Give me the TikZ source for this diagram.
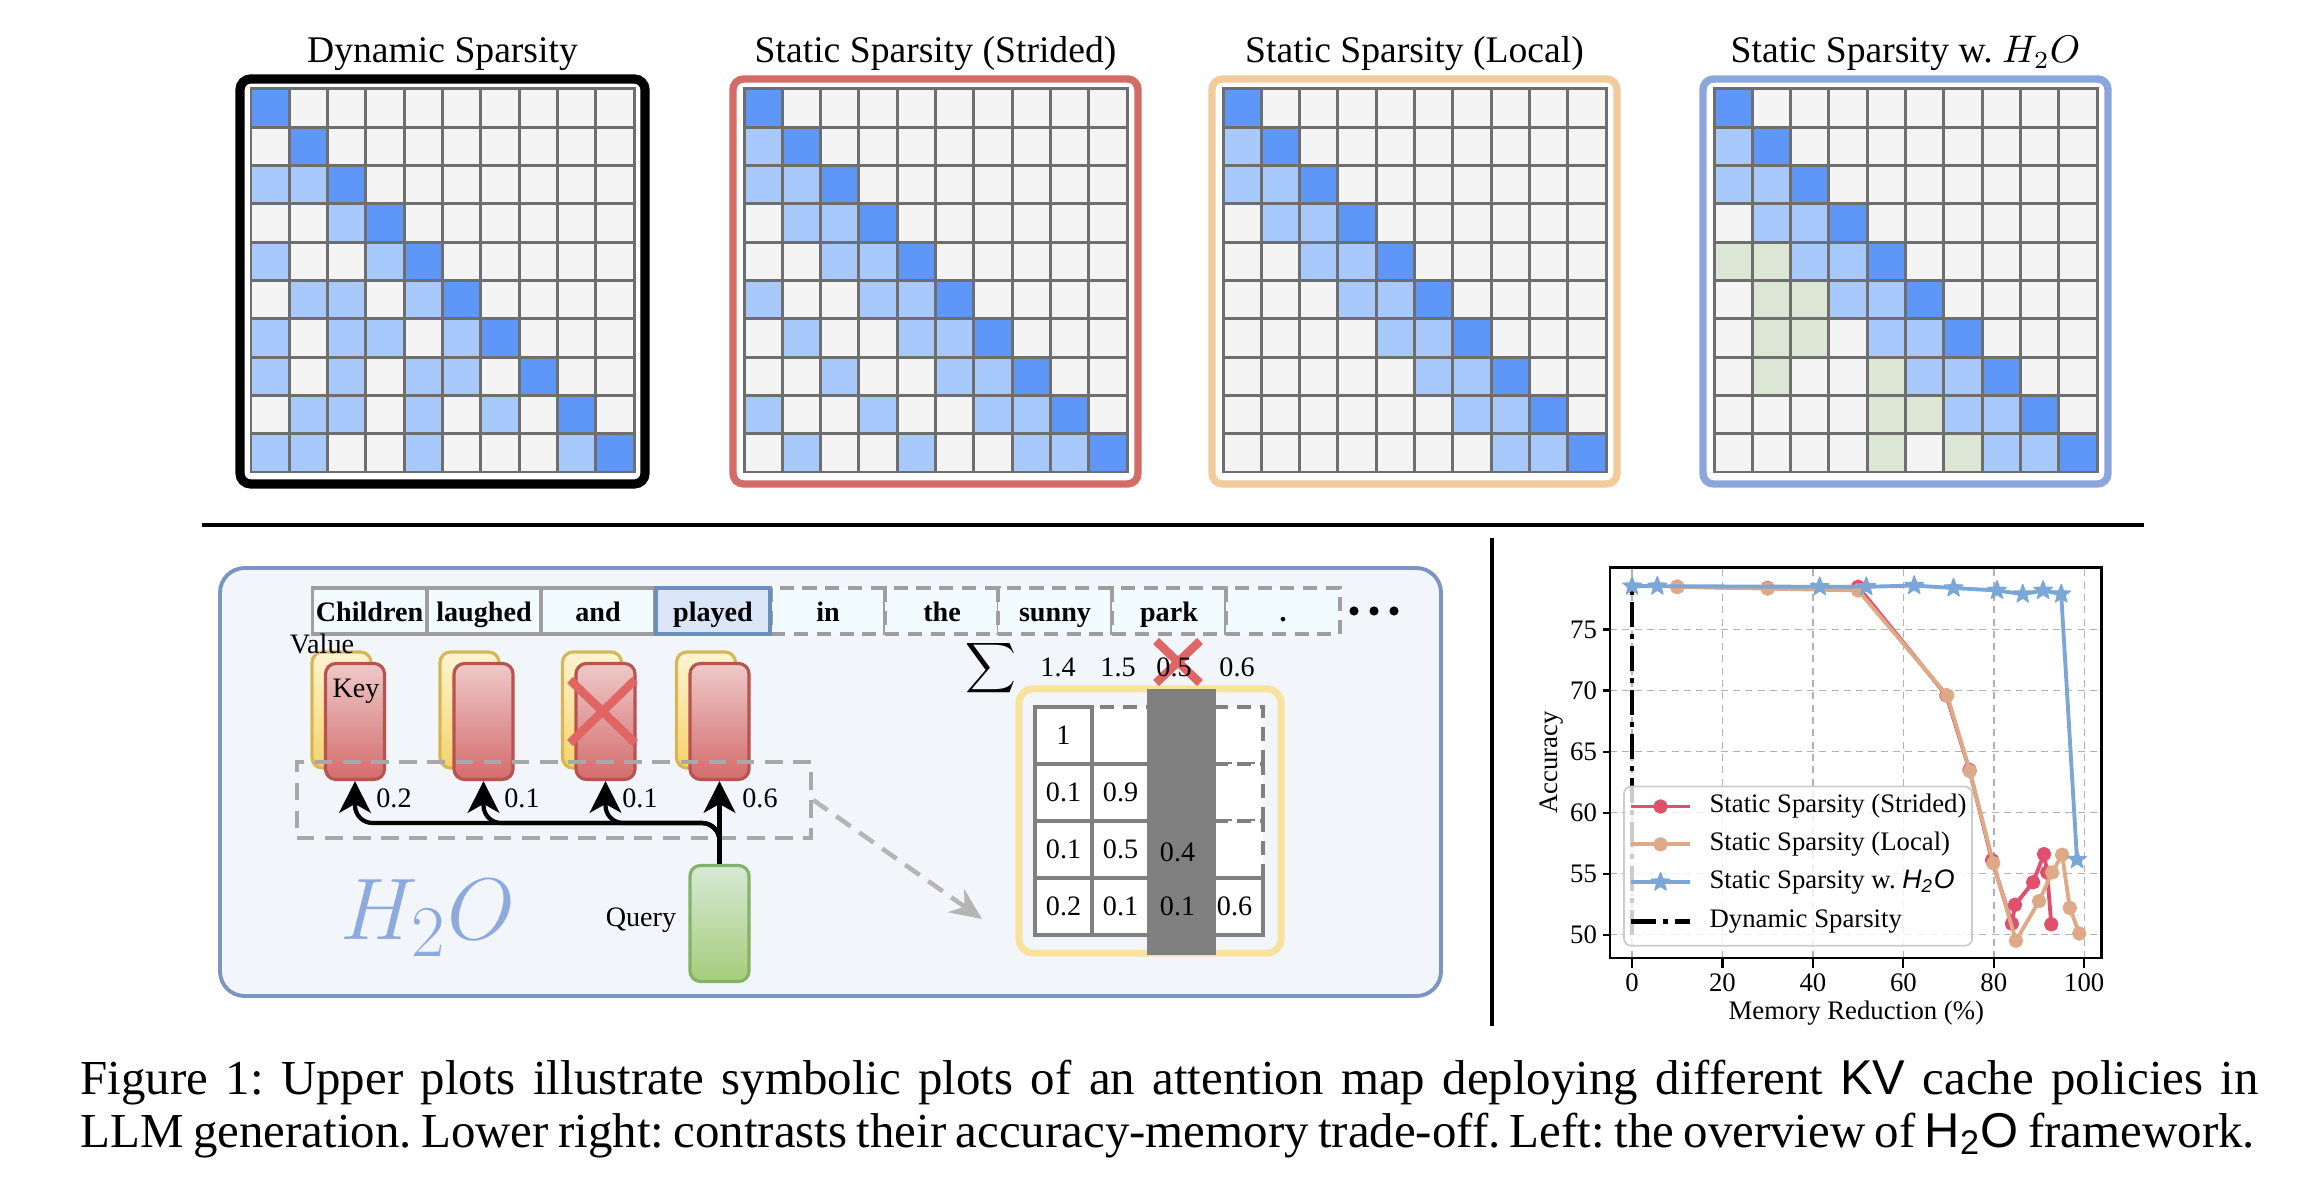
\documentclass[tikz,border=0pt]{standalone}
\usepackage{fontspec}
\setmainfont{Liberation Serif}
\newfontfamily\capsans{Liberation Sans}
\usepackage{tikz}
\usetikzlibrary{arrows.meta,positioning}
\definecolor{cellbg}{HTML}{F4F4F4}
\definecolor{gridgray}{HTML}{6E6E6E}
\definecolor{lightblue}{HTML}{A8C9FC}
\definecolor{darkblue}{HTML}{5E97F8}
\definecolor{h2ogreen}{HTML}{DBE6D5}
\definecolor{stridedred}{HTML}{D36B67}
\definecolor{localtan}{HTML}{F2CB9C}
\definecolor{h2oframe}{HTML}{8AA6DC}
\definecolor{panelbg}{HTML}{F2F5FA}
\definecolor{panelline}{HTML}{7B94C4}
\definecolor{tokfill}{HTML}{F2FBFE}
\definecolor{tokline}{HTML}{9E9E9E}
\definecolor{playfill}{HTML}{DAE5F8}
\definecolor{playline}{HTML}{6C8EBF}
\definecolor{keytop}{HTML}{EEC9C9}
\definecolor{keybot}{HTML}{D46C6C}
\definecolor{keyline}{HTML}{B85450}
\definecolor{valtop}{HTML}{FFF4D2}
\definecolor{valbot}{HTML}{F5D36A}
\definecolor{valline}{HTML}{D6B656}
\definecolor{qtop}{HTML}{D7E9D5}
\definecolor{qbot}{HTML}{A6CD7B}
\definecolor{qline}{HTML}{82B366}
\definecolor{crossred}{HTML}{E06666}
\definecolor{h2otext}{HTML}{8DAADF}
\definecolor{attnyellow}{HTML}{F9E29B}
\definecolor{darkcol}{HTML}{808080}
\definecolor{dashgray}{HTML}{A8A8A8}
\definecolor{plotred}{HTML}{E0506C}
\definecolor{plottan}{HTML}{DDA986}
\definecolor{plotblue}{HTML}{7AA7D6}

\pgfdeclareplotmark{fivestar}{%
  \pgfpathmoveto{\pgfpointpolar{90}{\pgfplotmarksize}}%
  \pgfpathlineto{\pgfpointpolar{126}{0.42*\pgfplotmarksize}}%
  \pgfpathlineto{\pgfpointpolar{162}{\pgfplotmarksize}}%
  \pgfpathlineto{\pgfpointpolar{198}{0.42*\pgfplotmarksize}}%
  \pgfpathlineto{\pgfpointpolar{234}{\pgfplotmarksize}}%
  \pgfpathlineto{\pgfpointpolar{270}{0.42*\pgfplotmarksize}}%
  \pgfpathlineto{\pgfpointpolar{306}{\pgfplotmarksize}}%
  \pgfpathlineto{\pgfpointpolar{342}{0.42*\pgfplotmarksize}}%
  \pgfpathlineto{\pgfpointpolar{18}{\pgfplotmarksize}}%
  \pgfpathlineto{\pgfpointpolar{54}{0.42*\pgfplotmarksize}}%
  \pgfpathclose
  \pgfusepathqfillstroke}

\frenchspacing
\begin{document}
\begin{tikzpicture}[
    x=0.01cm, y=-0.01cm,
    title/.style={font=\fontsize{10.7}{12}\selectfont, inner sep=0pt, anchor=base},
    cellbox/.style={draw=gridgray, line width=0.85pt, fill=cellbg},
    ltcell/.style={cellbox, fill=lightblue},
    dkcell/.style={cellbox, fill=darkblue},
    gncell/.style={cellbox, fill=h2ogreen},
    mapframe/.style={rounded corners=3pt, line width=2.1pt},
    panel/.style={fill=panelbg, draw=panelline, line width=1.1pt, rounded corners=7pt},
    token/.style={
        rectangle,
        draw=tokline,
        fill=tokfill,
        line width=0.9pt,
        minimum width=1.14cm,
        minimum height=0.46cm,
        text height=7pt, text depth=1pt,
        inner sep=0pt, outer sep=0pt,
        font=\bfseries\fontsize{8}{9}\selectfont
    },
    futuretoken/.style={token, dash pattern=on 4pt off 2.5pt},
    valcard/.style={
        rectangle,
        rounded corners=3pt,
        minimum width=0.59cm,
        minimum height=1.16cm,
        draw=valline,
        line width=0.9pt,
        top color=valtop,
        bottom color=valbot
    },
    keycard/.style={valcard, draw=keyline, top color=keytop, bottom color=keybot},
    querycard/.style={valcard, draw=qline, top color=qtop, bottom color=qbot},
    lbl/.style={font=\fontsize{8}{9}\selectfont, inner sep=0pt},
    attn/.style={
        -{Stealth[length=9pt, width=9pt, inset=2.5pt]},
        line width=1.2pt,
        rounded corners=5pt
    },
    cross/.style={draw=crossred, line width=2.4pt},
    selbox/.style={
        rectangle,
        draw=dashgray,
        dash pattern=on 5pt off 3pt,
        line width=1.2pt,
        minimum width=5.14cm,
        minimum height=0.76cm,
        inner sep=0pt
    },
    zoomarrow/.style={
        -{Stealth[length=9pt, width=8pt]},
        draw=dashgray!85,
        dash pattern=on 5pt off 3pt,
        line width=1.3pt
    },
    mcell/.style={draw=darkcol, fill=white, line width=1pt},
    plotgrid/.style={draw=black!30, dash pattern=on 2pt off 1.5pt, line width=0.4pt},
    ticklbl/.style={font=\fontsize{7.6}{9}\selectfont, inner sep=0pt},
    stridedplot/.style={draw=plotred, line width=1.1pt, line join=round, mark=*, mark size=1.5pt, mark options={fill=plotred, draw=plotred, solid}},
    localplot/.style={draw=plottan, line width=1.1pt, line join=round, mark=*, mark size=1.5pt, mark options={fill=plottan, draw=plottan, solid}},
    h2oplot/.style={draw=plotblue, line width=1.1pt, line join=round, mark=fivestar, mark size=2.8pt, mark options={fill=plotblue, draw=plotblue, solid, line width=0.3pt}},
    dynline/.style={draw=black, line width=1.3pt, dash pattern=on 7pt off 2pt on 1.5pt off 2pt},
    legtext/.style={font=\fontsize{7.6}{9}\selectfont, inner sep=0pt, anchor=west},
    capline/.style={font=\fontsize{13.9}{16}\selectfont, inner sep=0pt, anchor=base west}
]
    \useasboundingbox (0,0) rectangle (2298,1186);

    % Titles of the four attention maps
    \node[title] (tdyn) at (442.5,63) {Dynamic Sparsity};
    \node[title] (tstr) at (935.5,63) {Static Sparsity (Strided)};
    \node[title] (tloc) at (1414.5,63) {Static Sparsity (Local)};
    \node[title] (th2o) at (1905.5,63) {Static Sparsity w. $H_2O$};

    % Map 1: Dynamic Sparsity
    \draw[mapframe, draw=black, line width=2.6pt] (240,79) rectangle (645,484);
    \begin{scope}[shift={(251,89)}]
        \foreach \r in {0,...,9} \foreach \c in {0,...,9}
            \draw[cellbox] (\c*38.3,\r*38.3) rectangle ++(38.3,38.3);
        \foreach \r/\c in {3/1,3/2,4/3,5/1,5/4,6/2,6/3,6/5,7/1,7/3,7/4,7/6,8/1,8/3,8/5,8/6,9/2,9/3,9/5,9/7,10/1,10/2,10/5,10/9}
            \draw[ltcell] ({(\c-1)*38.3},{(\r-1)*38.3}) rectangle ++(38.3,38.3);
        \foreach \i in {0,...,9}
            \draw[dkcell] (\i*38.3,\i*38.3) rectangle ++(38.3,38.3);
    \end{scope}

    % Map 2: Strided
    \draw[mapframe, draw=stridedred] (733,79) rectangle (1138,484);
    \begin{scope}[shift={(744,89)}]
        \foreach \r in {0,...,9} \foreach \c in {0,...,9}
            \draw[cellbox] (\c*38.3,\r*38.3) rectangle ++(38.3,38.3);
        \foreach \r/\c in {2/1,3/1,3/2,4/2,4/3,5/3,5/4,6/1,6/4,6/5,7/2,7/5,7/6,8/3,8/6,8/7,9/1,9/4,9/7,9/8,10/2,10/5,10/8,10/9}
            \draw[ltcell] ({(\c-1)*38.3},{(\r-1)*38.3}) rectangle ++(38.3,38.3);
        \foreach \i in {0,...,9}
            \draw[dkcell] (\i*38.3,\i*38.3) rectangle ++(38.3,38.3);
    \end{scope}

    % Map 3: Local
    \draw[mapframe, draw=localtan] (1212,79) rectangle (1617,484);
    \begin{scope}[shift={(1223,89)}]
        \foreach \r in {0,...,9} \foreach \c in {0,...,9}
            \draw[cellbox] (\c*38.3,\r*38.3) rectangle ++(38.3,38.3);
        \foreach \r/\c in {2/1,3/1,3/2,4/2,4/3,5/3,5/4,6/4,6/5,7/5,7/6,8/6,8/7,9/7,9/8,10/8,10/9}
            \draw[ltcell] ({(\c-1)*38.3},{(\r-1)*38.3}) rectangle ++(38.3,38.3);
        \foreach \i in {0,...,9}
            \draw[dkcell] (\i*38.3,\i*38.3) rectangle ++(38.3,38.3);
    \end{scope}

    % Map 4: Local + heavy hitters
    \draw[mapframe, draw=h2oframe] (1703,79) rectangle (2108,484);
    \begin{scope}[shift={(1714,89)}]
        \foreach \r in {0,...,9} \foreach \c in {0,...,9}
            \draw[cellbox] (\c*38.3,\r*38.3) rectangle ++(38.3,38.3);
        \foreach \r/\c in {2/1,3/1,3/2,4/2,4/3,5/3,5/4,6/4,6/5,7/5,7/6,8/6,8/7,9/7,9/8,10/8,10/9}
            \draw[ltcell] ({(\c-1)*38.3},{(\r-1)*38.3}) rectangle ++(38.3,38.3);
        \foreach \r/\c in {5/1,5/2,6/2,6/3,7/2,7/3,8/2,8/5,9/5,9/6,10/5,10/7}
            \draw[gncell] ({(\c-1)*38.3},{(\r-1)*38.3}) rectangle ++(38.3,38.3);
        \foreach \i in {0,...,9}
            \draw[dkcell] (\i*38.3,\i*38.3) rectangle ++(38.3,38.3);
    \end{scope}

    % Separators
    \draw[line width=1.2pt] (202,525) -- (2144,525);
    \draw[line width=1.2pt] (1492,538) -- (1492,1026);

    % Lower left: H2O overview
    \draw[panel] (220,568) rectangle (1441,996);

    % Tokens
    \node[token] (tk1) at (369.5,611) {Children};
    \node[token] (tk2) at (484,611) {laughed};
    \node[token] (tk3) at (598,611) {and};
    \node[futuretoken] (tk5) at (828,611) {in};
    \node[futuretoken] (tk6) at (942,611) {the};
    \node[futuretoken] (tk7) at (1055,611) {sunny};
    \node[futuretoken] (tk8) at (1169,611) {park};
    \node[futuretoken] (tk9) at (1283,611) {.};
    \node[token, fill=playfill, draw=playline, line width=1.1pt] (tk4) at (713,611) {played};
    \foreach \dx in {1354,1374,1394}
        \fill (\dx,611) circle (1.3pt);

    % Value and key cards
    \node[valcard] (val1) at (341.5,710) {};
    \node[keycard] (key1) at (355,721.5) {};
    \node[valcard] (val2) at (469.5,710) {};
    \node[keycard] (key2) at (483.5,721.5) {};
    \node[valcard] (val3) at (592,710) {};
    \node[keycard] (key3) at (605.5,721.5) {};
    \node[valcard] (val4) at (706,710) {};
    \node[keycard] (key4) at (719.5,721.5) {};
    \node[lbl] (vallbl) at (322,644) {Value};
    \node[lbl] (keylbl) at (356,691) {Key};
    \draw[cross] (570,680) -- (635,743) (570,743) -- (635,680);

    % Query
    \node[querycard] (query) at (719.5,923.5) {};
    \node[lbl] (qlbl) at (641,920) {Query};
    \node[font=\fontsize{28}{30}\selectfont, text=h2otext, inner sep=0pt] (h2o) at (428,918) {$H_2O$};

    % Attention scores
    \node[selbox] (sel) at (554,800) {};
    \coordinate (bus) at (0,823);
    \draw[attn] (query.north) -- (key4.south);
    \foreach \k in {1,2,3}
        \draw[attn] (query.north) |- (key\k.south |- bus) -- (key\k.south);
    \node[lbl] (s1) at (394,798) {0.2};
    \node[lbl] (s2) at (522,798) {0.1};
    \node[lbl] (s3) at (640,798) {0.1};
    \node[lbl] (s4) at (760,798) {0.6};
    \coordinate (zoomtip) at (982,919);
    \draw[zoomarrow] (sel.east) -- (zoomtip);

    % Attention matrix
    \node[draw=attnyellow, line width=2pt, rounded corners=4pt, minimum width=2.62cm, minimum height=2.64cm, inner sep=0pt] (attnbox) at (1150,821) {};
    \foreach \r/\c in {1/2,1/3,1/4,2/3,2/4,3/4}
        \draw[mcell, dash pattern=on 4pt off 2.5pt] ({1035+57*(\c-1)},{707+57*(\r-1)}) rectangle ++(57,57);
    \foreach \r/\c in {1/1,2/1,2/2,3/1,3/2,3/3,4/1,4/2,4/3,4/4}
        \draw[mcell] ({1035+57*(\c-1)},{707+57*(\r-1)}) rectangle ++(57,57);
    \fill[darkcol] (1147,689) rectangle (1216,955);
    \node[lbl] (m11) at (1063.5,735.5) {1};
    \node[lbl] (m21) at (1063.5,792.5) {0.1};
    \node[lbl] (m22) at (1120.5,792.5) {0.9};
    \node[lbl] (m31) at (1063.5,849.5) {0.1};
    \node[lbl] (m32) at (1120.5,849.5) {0.5};
    \node[lbl] (m33) at (1177.5,852.5) {0.4};
    \node[lbl] (m41) at (1063.5,906.5) {0.2};
    \node[lbl] (m42) at (1120.5,906.5) {0.1};
    \node[lbl] (m43) at (1177.5,906.5) {0.1};
    \node[lbl] (m44) at (1234.5,906.5) {0.6};

    % Column sums
    \draw[cross] (1156,641) -- (1200,683) (1156,683) -- (1200,641);
    \node[lbl] (sigma) at (991,668) {$\displaystyle\sum$};
    \node[lbl] (sum1) at (1058,667) {1.4};
    \node[lbl] (sum2) at (1118,667) {1.5};
    \node[lbl] (sum3) at (1174,667) {0.5};
    \node[lbl] (sum4) at (1237,667) {0.6};

    % Lower right: accuracy vs memory reduction
    \begin{scope}[shift={(1632,1545)}, x=0.0452cm, y=0.122cm]
        \foreach \gx in {0,20,...,100}
            \draw[plotgrid] (\gx,48.1) -- (\gx,80.08);
        \foreach \gy in {50,55,...,75}
            \draw[plotgrid] (-4.87,\gy) -- (103.8,\gy);
        \draw[line width=0.6pt] (-4.87,48.1) rectangle (103.8,80.08);
        \foreach \gx in {0,20,...,100} {
            \draw[line width=0.6pt] (\gx,48.1) -- ++(0,-0.8);
            \node[ticklbl, anchor=north] (xl\gx) at (\gx,46.9) {\gx};
        }
        \foreach \gy in {50,55,...,75} {
            \draw[line width=0.6pt] (-4.87,\gy) -- ++(-1.6,0);
            \node[ticklbl, anchor=east] (yl\gy) at (-7.6,\gy) {\gy};
        }
        \node[ticklbl, rotate=90] (ylab) at (-17.7,64.1) {Accuracy};
        \node[ticklbl] (xlab) at (49.6,43.6) {Memory Reduction (\%)};

        \draw[dynline] (0,50) -- (0,78.5);
        \draw[stridedplot] plot coordinates {(10,78.5) (30,78.4) (50,78.5) (69.5,69.6) (74.6,63.5) (79.6,56.1) (84.0,50.9) (84.7,52.45) (88.7,54.3) (91.1,56.6) (91.8,55.1) (92.7,50.85)};
        \draw[localplot] plot coordinates {(10,78.5) (30,78.35) (50,78.2) (69.7,69.6) (74.7,63.4) (79.9,55.85) (84.9,49.5) (90,52.75) (92.9,55.1) (95.1,56.55) (96.8,52.2) (98.9,50.1)};
        \draw[h2oplot] plot coordinates {(0,78.55) (5.6,78.55) (41.5,78.5) (51.8,78.5) (62.4,78.6) (71.1,78.4) (80.7,78.2) (86.4,77.9) (90.9,78.2) (94.9,77.9) (98.4,56.15)};

        % Legend
        \draw[fill=white, fill opacity=0.8, draw=black!20, line width=0.5pt, rounded corners=2pt] (-1.77,49.1) rectangle (75.2,62.13);
        \draw[stridedplot, mark indices={2}] plot coordinates {(-0.2,60.5) (6.3,60.5) (12.8,60.5)};
        \node[legtext] (leg1) at (17,60.5) {Static Sparsity (Strided)};
        \draw[localplot, mark indices={2}] plot coordinates {(-0.2,57.4) (6.3,57.4) (12.8,57.4)};
        \node[legtext] (leg2) at (17,57.4) {Static Sparsity (Local)};
        \draw[h2oplot, mark indices={2}] plot coordinates {(-0.2,54.3) (6.3,54.3) (12.8,54.3)};
        \node[legtext] (leg3) at (17,54.3) {Static Sparsity w. {\capsans\itshape H\textsubscript{2}O}};
        \draw[dynline] (-0.2,51.07) -- (12.8,51.07);
        \node[legtext] (leg4) at (17,51.07) {Dynamic Sparsity};
    \end{scope}

    % Caption
    \node[capline] (cap1) at (80,1094) {\makebox[21.77cm][s]{Figure 1: Upper plots illustrate symbolic plots of an attention map deploying different {\capsans KV} cache policies in}};
    \node[capline] (cap2) at (80,1147) {\makebox[21.73cm][s]{LLM generation. Lower right: contrasts their accuracy-memory trade-off. Left: the overview of {\capsans H\textsubscript{2}O} framework.}};
\end{tikzpicture}
\end{document}
